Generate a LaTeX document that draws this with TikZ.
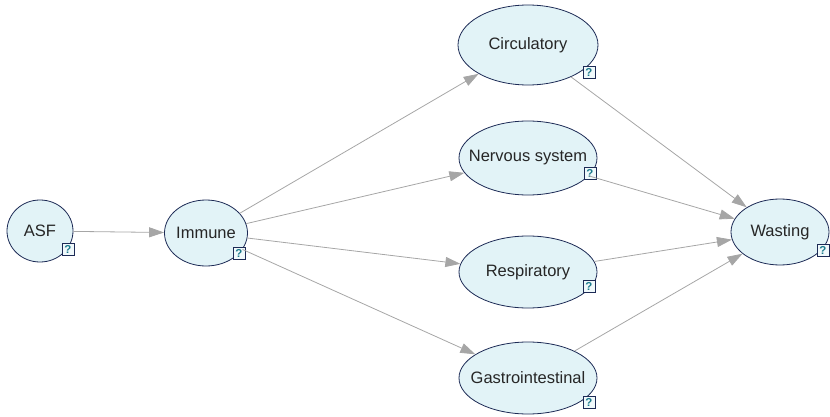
\documentclass[tikz,border=0pt]{standalone}
\usepackage{fontspec}
\setmainfont{Liberation Sans}
\usetikzlibrary{shapes.geometric,arrows.meta}
\definecolor{nodefill}{HTML}{E2F3F7}
\definecolor{nodeline}{HTML}{1C2A55}
\definecolor{edgegray}{HTML}{A6A6A6}
\definecolor{qteal}{HTML}{1B7A8C}
% zero-width label so the ellipse keeps its given size
\newcommand{\vname}[1]{\makebox[0pt]{#1}}
\tikzset{
  var/.style={ellipse, draw=nodeline, line width=0.8pt, fill=nodefill,
    inner sep=0pt, font=\fontsize{16.5}{18}\selectfont, text=black!85},
  qbox/.style={rectangle, draw=nodeline, line width=0.8pt, fill=nodefill!50,
    minimum size=12pt, inner sep=0pt, text=qteal,
    font=\fontsize{11.5}{11.5}\selectfont\bfseries},
  edge/.style={draw=edgegray, line width=0.8pt,
    -{Triangle[length=15pt,width=10pt,fill=edgegray]}}
}
\begin{document}
\begin{tikzpicture}[x=1pt,y=-1pt]
\useasboundingbox (0,0) rectangle (830,417);
% variables
\node[var, minimum width=66pt, minimum height=62pt] (asf) at (40,231) {\vname{ASF}};
\node[var, minimum width=83pt, minimum height=66pt] (imm) at (206,233) {\vname{Immune}};
\node[var, minimum width=140pt, minimum height=80pt] (circ) at (528,45) {\vname{Circulatory}};
\node[var, minimum width=138pt, minimum height=74pt] (nerv) at (528,158) {\vname{Nervous system}};
\node[var, minimum width=138pt, minimum height=72pt] (resp) at (528,272) {\vname{Respiratory}};
\node[var, minimum width=138pt, minimum height=72pt] (gast) at (528,378) {\vname{Gastrointestinal}};
\node[var, minimum width=98pt, minimum height=66pt] (wast) at (780,232) {\vname{Wasting}};
% help markers
\node[qbox] (asfq) at (68,249) {?};
\node[qbox] (immq) at (239,253) {?};
\node[qbox] (circq) at (589,72) {?};
\node[qbox] (nervq) at (590,173) {?};
\node[qbox] (respq) at (589,286) {?};
\node[qbox] (gastq) at (589,402) {?};
\node[qbox] (wastq) at (823,250) {?};
% dependencies
\draw[edge] (asf) -- (imm);
\draw[edge] (imm) -- (circ);
\draw[edge] (imm) -- (nerv);
\draw[edge] (imm) -- (resp);
\draw[edge] (imm) -- (gast);
\draw[edge] (circ) -- (wast);
\draw[edge] (nerv) -- (wast);
\draw[edge] (resp) -- (wast);
\draw[edge] (gast) -- (wast);
\end{tikzpicture}
\end{document}
